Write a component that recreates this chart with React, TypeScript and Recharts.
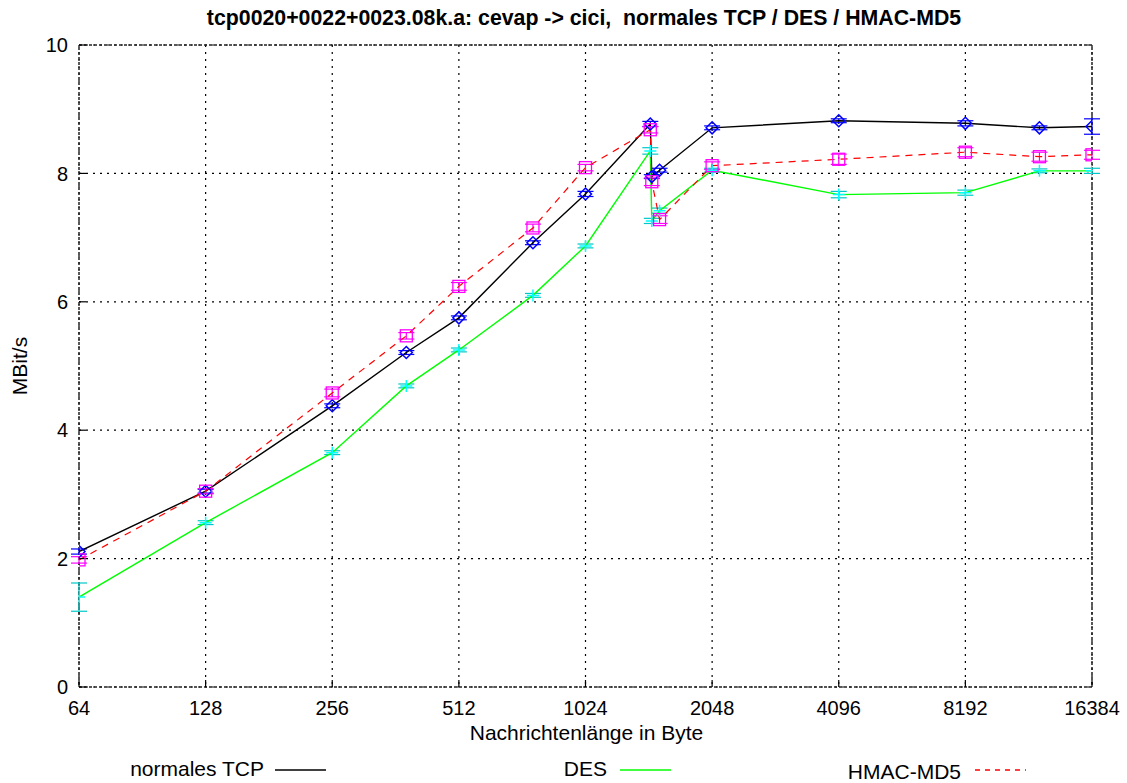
import React from 'react';
import { LineChart, Line, XAxis, YAxis, CartesianGrid, ErrorBar, ReferenceArea } from 'recharts';

// message sizes in byte (log2 x axis)
const sizes = [64, 128, 256, 384, 512, 768, 1024, 1460, 1472, 1536, 2048, 4096, 8192, 12288, 16384];

// MBit/s per series, with half error bars
const tcp = [2.11, 3.05, 4.38, 5.21, 5.75, 6.92, 7.68, 8.77, 7.95, 8.05, 8.71, 8.82, 8.78, 8.71, 8.73];
const tcpErr = [0.04, 0.03, 0.03, 0.03, 0.03, 0.03, 0.04, 0.04, 0.03, 0.03, 0.03, 0.03, 0.04, 0.03, 0.12];
const des = [1.4, 2.56, 3.65, 4.69, 5.25, 6.1, 6.87, 8.35, 7.26, 7.42, 8.05, 7.67, 7.7, 8.04, 8.04];
const desErr = [0.22, 0.03, 0.03, 0.03, 0.03, 0.03, 0.03, 0.05, 0.04, 0.04, 0.03, 0.05, 0.04, 0.03, 0.04];
const hmac = [1.98, 3.05, 4.58, 5.47, 6.24, 7.15, 8.09, 8.68, 7.87, 7.28, 8.12, 8.22, 8.33, 8.26, 8.29];
const hmacErr = [0.05, 0.04, 0.06, 0.05, 0.06, 0.06, 0.05, 0.05, 0.06, 0.06, 0.06, 0.08, 0.07, 0.07, 0.07];

const xTicks = [64, 128, 256, 512, 1024, 2048, 4096, 8192, 16384];
const yTicks = [0, 2, 4, 6, 8, 10];

const data = sizes.map((size, i) => ({
    size,
    tcp: tcp[i],
    tcpErr: tcpErr[i],
    des: des[i],
    desErr: desErr[i],
    hmac: hmac[i],
    hmacErr: hmacErr[i],
}));

const legendItems = [
    { name: 'normales TCP', color: '#000000', dash: undefined, textEnd: 264, lineX: 275, baseline: 776 },
    { name: 'DES', color: '#00ff00', dash: undefined, textEnd: 607, lineX: 620, baseline: 776 },
    { name: 'HMAC-MD5', color: '#ff0000', dash: '5 5', textEnd: 961, lineX: 975, baseline: 779 },
];

const font = '"Liberation Sans", Arial, Helvetica, sans-serif';

const diamondDot = (p: any) => (
    <path
        key={`d-${p.index}`}
        d={`M${p.cx},${p.cy - 6}L${p.cx + 6},${p.cy}L${p.cx},${p.cy + 6}L${p.cx - 6},${p.cy}Z`}
        fill="none"
        stroke="#0000ff"
        strokeWidth={1.5}
    />
);

const squareDot = (p: any) => (
    <rect
        key={`s-${p.index}`}
        x={p.cx - 6}
        y={p.cy - 6}
        width={12}
        height={12}
        fill="none"
        stroke="#ff00ff"
        strokeWidth={1.3}
    />
);

const plusDot = (p: any) => (
    <path
        key={`p-${p.index}`}
        d={`M${p.cx - 6},${p.cy}H${p.cx + 6}M${p.cx},${p.cy - 6}V${p.cy + 6}`}
        stroke="#00ffff"
        strokeWidth={1.5}
    />
);

export default function App() {
    return (
        <div style={{ position: 'absolute', left: 0, top: 0, width: 1127, height: 783, background: '#fff' }}>
            <LineChart width={1127} height={783} data={data} margin={{ top: 45, right: 35, bottom: 66, left: 19 }}>
                <CartesianGrid stroke="#000" strokeDasharray="2 5" strokeWidth={1.2} />
                <XAxis
                    dataKey="size"
                    type="number"
                    scale="log"
                    domain={[64, 16384]}
                    ticks={xTicks}
                    interval={0}
                    allowDataOverflow
                    height={30}
                    axisLine={false}
                    tickSize={-7}
                    tickMargin={21}
                    tickLine={{ stroke: '#000', strokeWidth: 1.2 }}
                    tick={{ fill: '#000', fontSize: 20, fontFamily: font }}
                />
                <XAxis
                    xAxisId="top"
                    orientation="top"
                    dataKey="size"
                    type="number"
                    scale="log"
                    domain={[64, 16384]}
                    ticks={xTicks}
                    interval={0}
                    allowDataOverflow
                    height={0}
                    axisLine={false}
                    tick={false}
                    tickSize={-7}
                    tickLine={{ stroke: '#000', strokeWidth: 1.2 }}
                />
                <YAxis
                    type="number"
                    domain={[0, 10]}
                    ticks={yTicks}
                    interval={0}
                    width={60}
                    axisLine={false}
                    tickSize={-7}
                    tickMargin={18}
                    tickLine={{ stroke: '#000', strokeWidth: 1.2 }}
                    tick={{ fill: '#000', fontSize: 20, fontFamily: font }}
                />
                <YAxis
                    yAxisId="right"
                    orientation="right"
                    type="number"
                    domain={[0, 10]}
                    ticks={yTicks}
                    interval={0}
                    width={0}
                    axisLine={false}
                    tick={false}
                    tickSize={-7}
                    tickLine={{ stroke: '#000', strokeWidth: 1.2 }}
                />
                <ReferenceArea
                    x1={64}
                    x2={16384}
                    y1={0}
                    y2={10}
                    fill="none"
                    stroke="#222"
                    strokeWidth={1.5}
                    strokeDasharray="3 2"
                    ifOverflow="visible"
                />
                <Line
                    dataKey="tcp"
                    type="linear"
                    stroke="#000"
                    strokeWidth={1.4}
                    dot={diamondDot}
                    activeDot={false}
                    isAnimationActive={false}
                >
                    <ErrorBar dataKey="tcpErr" direction="y" width={8} stroke="#0000ff" strokeWidth={1.2} isAnimationActive={false} />
                </Line>
                <Line
                    dataKey="des"
                    type="linear"
                    stroke="#00ff00"
                    strokeWidth={1.4}
                    dot={plusDot}
                    activeDot={false}
                    isAnimationActive={false}
                >
                    <ErrorBar dataKey="desErr" direction="y" width={8} stroke="#00c8c8" strokeWidth={1.2} isAnimationActive={false} />
                </Line>
                <Line
                    dataKey="hmac"
                    type="linear"
                    stroke="#ff0000"
                    strokeWidth={1.2}
                    strokeDasharray="7 6"
                    dot={squareDot}
                    activeDot={false}
                    isAnimationActive={false}
                >
                    <ErrorBar dataKey="hmacErr" direction="y" width={8} stroke="#ff00ff" strokeWidth={1.2} isAnimationActive={false} />
                </Line>
            </LineChart>

            {/* title, axis labels and key */}
            <svg width={1127} height={783} style={{ position: 'absolute', left: 0, top: 0, pointerEvents: 'none' }}>
                <text x={584} y={24.5} textAnchor="middle" fontFamily={font} fontSize={21.3} fontWeight="bold" fill="#000">
                    tcp0020+0022+0023.08k.a: cevap -&gt; cici,{'\u00a0\u00a0'}normales TCP / DES / HMAC-MD5
                </text>
                <text x={586.5} y={740} textAnchor="middle" fontFamily={font} fontSize={21} fill="#000">
                    Nachrichtenlänge in Byte
                </text>
                <text
                    x={0}
                    y={0}
                    transform="translate(26.5,366) rotate(-90)"
                    textAnchor="middle"
                    fontFamily={font}
                    fontSize={21}
                    fill="#000"
                >
                    MBit/s
                </text>
                {legendItems.map((item) => (
                    <g key={item.name}>
                        <text x={item.textEnd} y={item.baseline} textAnchor="end" fontFamily={font} fontSize={21} fill="#000">
                            {item.name}
                        </text>
                        <line
                            x1={item.lineX}
                            x2={item.lineX + 51}
                            y1={770}
                            y2={770}
                            stroke={item.color}
                            strokeWidth={1.3}
                            strokeDasharray={item.dash}
                        />
                    </g>
                ))}
            </svg>
        </div>
    );
}
